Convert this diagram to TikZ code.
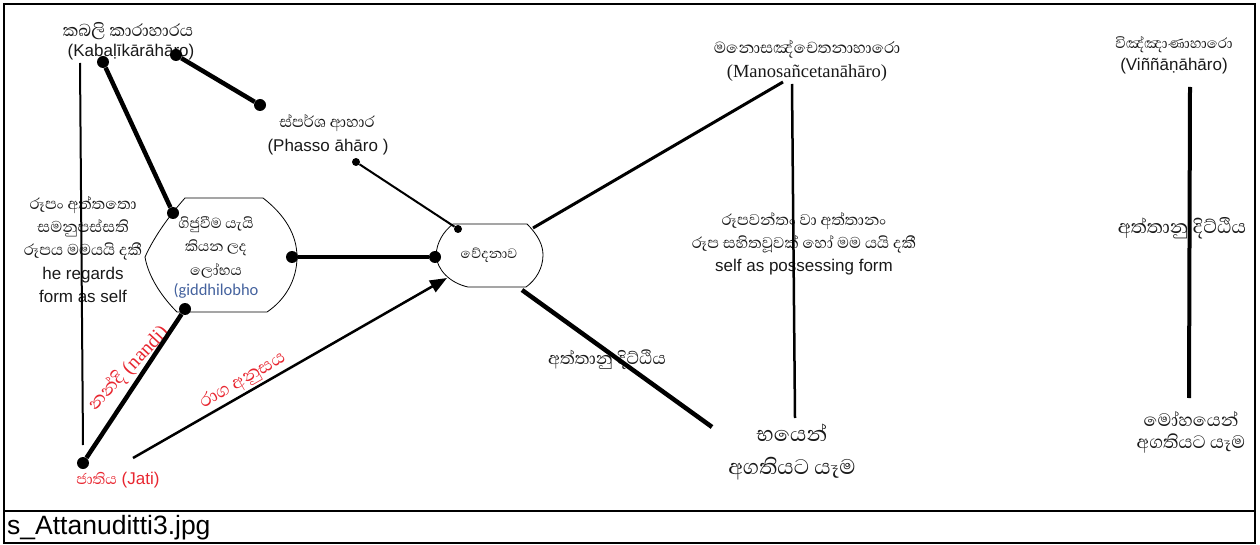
\documentclass[tikz,border=0pt]{standalone}
\usepackage{fontspec}
\setmainfont{Liberation Sans}
\newfontfamily\sinhala[Script=Sinhala]{Abhaya Libre}
\newfontfamily\timesfont{Liberation Serif}
\newfontfamily\calibrifont{Carlito}
\usepackage{tikz}
\usetikzlibrary{arrows.meta}
\definecolor{sRed}{RGB}{232,38,48}
\definecolor{sBlue}{RGB}{68,98,158}
\definecolor{sInk}{RGB}{25,25,25}
\newcommand{\sinsize}[1]{\sinhala\fontsize{#1}{23}\selectfont}
\tikzset{
  bigdot/.style={circle, fill=black, inner sep=0pt, minimum size=12pt},
  smalldot/.style={circle, fill=black, inner sep=0pt, minimum size=8pt},
  heavy/.style={line width=4.5pt},
  light/.style={line width=2pt},
  lbl/.style={align=center, inner sep=0pt, text=sInk, font=\fontsize{17}{23}\selectfont},
}
\begin{document}
\begin{tikzpicture}[x=1pt,y=-1pt]
\useasboundingbox (0,0) rectangle (1260,545);
\draw[line width=2pt] (4,4) rectangle (1255,543);
\draw[line width=2pt] (4,511) -- (1255,511);
\node[anchor=west, inner sep=0pt, font=\fontsize{26.5}{30}\selectfont] (caption) at (7,528) {s\_Attanuditti3.jpg};
% the two shapes
\draw[line width=0.8pt, fill=white] (185,198) -- (263,198) .. controls (285,215) and (297,235) .. (297,257) .. controls (297,280) and (285,300) .. (267,312) -- (177,312) .. controls (160,295) and (148,275) .. (145,257) .. controls (155,235) and (170,215) .. (185,198) -- cycle;
\draw[line width=0.8pt, fill=white] (453,224) -- (527,224) .. controls (538,235) and (543,245) .. (543,255) .. controls (543,268) and (536,280) .. (526,287) -- (468,287) .. controls (450,283) and (437,270) .. (436,255) .. controls (437,242) and (443,232) .. (453,224) -- cycle;
% texts
\node[lbl, font=\sinsize{22}] (kabSi) at (128,31) {කබලි කාරාහාරය};
\node[lbl] (kabLa) at (131,52) {(Kabaḷīkārāhāro)};
\node[lbl, font=\sinsize{20}] (phaSi) at (327,123) {ස්පර්ශ ආහාර};
\node[lbl] (phaLa) at (328,147) {(Phasso āhāro )};
\node[lbl] (rupaSelf) at (83,250) {{\sinsize{20}රූපං අත්තතො}\\{\sinsize{20}සමනුපස්සති}\\{\sinsize{20}රූපය මමයයි දකී}\\[1pt]he regards\\form as self};
\node[lbl] (giddhi) at (216,258) {{\sinsize{18.5}ගිජුවීම යැයි}\\{\sinsize{18.5}කියන ලද}\\[1pt]{\sinsize{18.5}ලෝභය}\\[-3pt]{\calibrifont\color{sBlue}\fontsize{16.5}{20}\selectfont(giddhilobho}};
\node[lbl, font=\sinsize{17.5}] (vedana) at (489,255) {වේදනාව};
\node[lbl, text=sRed] (jati) at (118,480) {{\sinsize{19}ජාතිය} {\fontsize{17}{18}\selectfont(Jati)}};
\node[lbl, text=sRed, rotate=47] (nandi) at (129,369) {{\sinsize{23}නන්දි} {\timesfont\fontsize{20}{20}\selectfont(nandi)}};
\node[lbl, text=sRed, rotate=29.8, font=\sinsize{23}] (raga) at (243,381) {රාග අනුසය};
\node[lbl, font=\sinsize{22}] (attaMid) at (607,360) {අත්තානු දිට්ඨිය};
\node[lbl, font=\sinsize{20.5}] (manoSi) at (807,49) {මනොසඤ්චෙතනාහාරො};
\node[lbl, font=\timesfont\fontsize{18.5}{22}\selectfont] (manoLa) at (807,73) {(Manosañcetanāhāro)};
\node[lbl] (rupavant) at (804,244) {{\sinsize{20}රූපවන්තං වා අත්තානං}\\{\sinsize{20}රූප සහිතවූවක් හෝ මම යයි දකී}\\self as possessing form};
\node[lbl, font=\sinhala\fontsize{27}{33}\selectfont] (bhaya) at (792,452) {භයෙන්\\අගතියට යෑම};
\node[lbl, font=\sinsize{18.5}] (vinSi) at (1174,45) {විඤ්ඤාණාහාරො};
\node[lbl] (vinLa) at (1174,66) {(Viññāṇāhāro)};
\node[lbl, font=\sinsize{24}] (attaRight) at (1182,228) {අත්තානු දිට්ඨිය};
\node[lbl, font=\sinhala\fontsize{23}{22}\selectfont] (moha) at (1191,432) {මෝහයෙන්\\අගතියට යෑම};
% dots
\node[bigdot] (kabA) at (103,62) {};
\node[bigdot] (kabB) at (176,55) {};
\node[bigdot] (phaA) at (260,105) {};
\node[smalldot] (phaB) at (356,162) {};
\node[smalldot] (vedTop) at (458,229) {};
\node[bigdot] (gidTop) at (173,213) {};
\node[bigdot] (gidRight) at (292,257) {};
\node[bigdot] (vedLeft) at (435,257) {};
\node[bigdot] (gidBot) at (185,309) {};
\node[bigdot] (jatiDot) at (83,463) {};
\coordinate (rupaTop) at (80,63);
\coordinate (rupaBot) at (83,445);
\coordinate (ragaFoot) at (133,458);
\coordinate (vedArrow) at (447,278);
\coordinate (vedNE) at (533,228);
\coordinate (manoFoot) at (783,82);
\coordinate (vedSE) at (522,290);
\coordinate (bhayaTop) at (712,427);
\coordinate (manoTop) at (792,84);
\coordinate (manoBot) at (795,418);
\coordinate (vinTop) at (1190,87);
\coordinate (vinBot) at (1189,398);
% connectors
\draw[light] (rupaTop) -- (rupaBot);
\draw[heavy] (kabA) -- (gidTop);
\draw[heavy] (kabB) -- (phaA);
\draw[light] (phaB) -- (vedTop);
\draw[heavy] (gidRight) -- (vedLeft);
\draw[heavy] (jatiDot) -- (gidBot);
\draw[line width=2.5pt, -{Triangle[length=17pt,width=13pt]}] (ragaFoot) -- (vedArrow);
\draw[line width=3pt] (vedNE) -- (manoFoot);
\draw[heavy] (vedSE) -- (bhayaTop);
\draw[line width=2.5pt] (manoTop) -- (manoBot);
\draw[line width=4pt] (vinTop) -- (vinBot);
\end{tikzpicture}
\end{document}
